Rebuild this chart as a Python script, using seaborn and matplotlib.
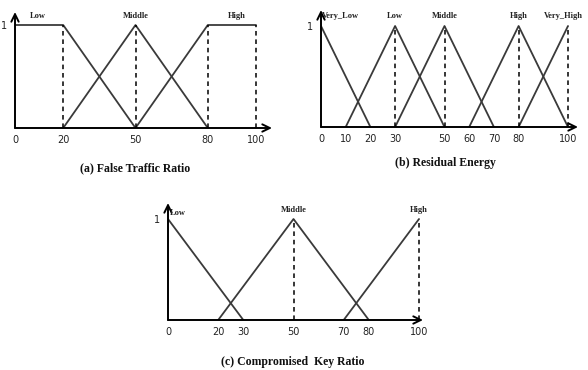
import matplotlib
matplotlib.use("Agg")
import matplotlib.pyplot as plt
import seaborn as sns
import pandas as pd

sns.set_theme(style="white")
plt.rcParams['font.family'] = ['DejaVu Sans']

# ---- data ----
a_names = ["Low", "Middle", "High"]
a_x = [[0, 20, 50], [20, 50, 80], [50, 80, 100]]
a_y = [[1, 1, 0], [0, 1, 0], [0, 1, 1]]
a_dash = [20, 50, 80, 100]
a_ticks = [0, 20, 50, 80, 100]

b_names = ["Very_Low", "Low", "Middle", "High", "Very_High"]
b_x = [[0, 20], [10, 30, 50], [30, 50, 70], [60, 80, 100], [80, 100]]
b_y = [[1, 0], [0, 1, 0], [0, 1, 0], [0, 1, 0], [0, 1]]
b_dash = [30, 50, 80, 100]
b_ticks = [0, 10, 20, 30, 50, 60, 70, 80, 100]

c_names = ["Low", "Middle", "High"]
c_x = [[0, 30], [20, 50, 80], [70, 100]]
c_y = [[1, 0], [0, 1, 0], [0, 1]]
c_dash = [50, 100]
c_ticks = [0, 20, 30, 50, 70, 80, 100]

titles = ["(a) False Traffic Ratio", "(b) Residual Energy", "(c) Compromised  Key Ratio"]

W, H = 588, 370
fig = plt.figure(figsize=(W / 100, H / 100), dpi=100)


def make_ax(x0, ybase, xend, ytop, y1, xscale):
    # pixel coords from top-left
    ax = fig.add_axes([x0 / W, (H - ybase) / H, (xend - x0) / W, (ybase - ytop) / H])
    ax.set_xlim(0, (xend - x0) / xscale)
    ax.set_ylim(0, (ybase - ytop) / (ybase - y1))
    ax.patch.set_alpha(0)
    for s in ax.spines.values():
        s.set_visible(False)
    style = "->,head_length=0.45,head_width=0.22"
    ax.annotate("", xy=(1, 0), xytext=(0, 0), xycoords="axes fraction",
                arrowprops=dict(arrowstyle=style, color="black", lw=1.4,
                                shrinkA=0, shrinkB=0))
    ax.annotate("", xy=(0, 1), xytext=(0, 0), xycoords="axes fraction",
                arrowprops=dict(arrowstyle=style, color="black", lw=1.4,
                                shrinkA=0, shrinkB=0))
    return ax


def draw(ax, names, xs, ys, dash, ticks, label_pos):
    for name, x, y in zip(names, xs, ys):
        df = pd.DataFrame({"x": x, "y": y})
        sns.lineplot(data=df, x="x", y="y", ax=ax, color="#3a3a3a", lw=1.3,
                     sort=False, estimator=None)
    for d in dash:
        ax.plot([d, d], [0, 1], color="black", lw=1.1, ls=(0, (3, 2.5)))
    ax.set_xticks(ticks)
    ax.set_xticklabels([str(t) for t in ticks], fontsize=7, color="#222222")
    ax.set_yticks([1])
    ax.set_yticklabels(["1"], fontsize=7, color="#222222")
    ax.tick_params(length=0, pad=5)
    ax.tick_params(axis="y", pad=6)
    ax.set_xlabel("")
    ax.set_ylabel("")
    for name, (lx, ly, ha) in zip(names, label_pos):
        ax.text(lx, ly, name, ha=ha, va="center", fontsize=6, fontweight="bold",
                family="Liberation Serif", color="#222222")


ax_a = make_ax(15, 128, 272, 12, 25, 2.41)
draw(ax_a, a_names, a_x, a_y, a_dash, a_ticks,
     [(9.5, 1.09, "center"), (50, 1.09, "center"), (92, 1.09, "center")])

ax_b = make_ax(321, 127, 578, 10, 26, 2.47)
draw(ax_b, b_names, b_x, b_y, b_dash, b_ticks,
     [(0.5, 1.1, "left"), (30, 1.1, "center"), (50, 1.1, "center"),
      (80, 1.1, "center"), (98, 1.1, "center")])

ax_c = make_ax(168, 320, 423, 203, 219, 2.51)
draw(ax_c, c_names, c_x, c_y, c_dash, c_ticks,
     [(0.8, 1.06, "left"), (50, 1.09, "center"), (100, 1.09, "center")])

for t, (px, py) in zip(titles, [(135, 168), (445, 163), (293, 362)]):
    fig.text(px / W, 1 - py / H, t, ha="center", va="center", fontsize=8.5,
             fontweight="bold", family="Liberation Serif", color="#111111")

fig.savefig("out.png", dpi=100, facecolor="white")
